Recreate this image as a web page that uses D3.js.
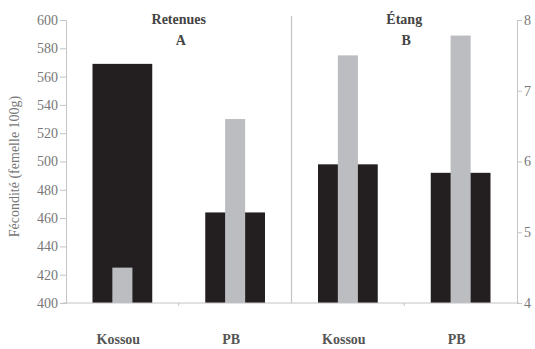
<!DOCTYPE html>
<html><head><meta charset="utf-8">
<script src="https://cdn.jsdelivr.net/npm/d3@7"></script>
<style>body{margin:0;background:#fff;} svg{display:block;}</style>
</head><body>
<svg id="c" width="535" height="349"></svg>
<script>
const categories = ["Kossou", "PB", "Kossou", "PB"];
const panels = ["Retenues", "Étang"];
const panelLetters = ["A", "B"];
const fecondite = [569, 464, 498, 492];      // left axis, black bars
const secondValues = [4.5, 6.6, 7.5, 7.78];  // right axis, grey bars
const leftTicks = [400, 420, 440, 460, 480, 500, 520, 540, 560, 580, 600];
const rightTicks = [4, 5, 6, 7, 8];

(function () {
const svg = d3.select("#c");
const mLeft = 66, mRight = 517, mTop = 20, mBottom = 303;
const font = "'Liberation Serif', 'Times New Roman', serif";

const x = d3.scaleBand().domain(d3.range(categories.length)).range([mLeft, mRight]).padding(0);
const yL = d3.scaleLinear().domain([400, 600]).range([mBottom, mTop]);
const yR = d3.scaleLinear().domain([4, 8]).range([mBottom, mTop]);
const axisCol = "#c4c4c4";

// black bars
const bw = x.bandwidth() * 0.53;
svg.selectAll("rect.b").data(fecondite).enter().append("rect").attr("class", "b")
  .attr("x", (d, i) => x(i) + x.bandwidth() / 2 - bw / 2)
  .attr("width", bw)
  .attr("y", d => yL(d))
  .attr("height", d => mBottom - yL(d))
  .attr("fill", "#231f20");
// grey bars
const gw = x.bandwidth() * 0.178;
svg.selectAll("rect.g").data(secondValues).enter().append("rect").attr("class", "g")
  .attr("x", (d, i) => x(i) + x.bandwidth() / 2 - gw / 2)
  .attr("width", gw)
  .attr("y", d => yR(d))
  .attr("height", d => mBottom - yR(d))
  .attr("fill", "#bcbdc0");

// left axis
const gL = svg.append("g").attr("transform", `translate(${mLeft},0)`)
  .call(d3.axisLeft(yL).tickValues(leftTicks).tickFormat(d3.format("d")).tickSize(6).tickPadding(2));
// right axis
const gR = svg.append("g").attr("transform", `translate(${mRight},0)`)
  .call(d3.axisRight(yR).tickValues(rightTicks).tickFormat(d3.format("d")).tickSize(5).tickPadding(2));
// bottom axis
const gB = svg.append("g").attr("transform", `translate(0,${mBottom})`)
  .call(d3.axisBottom(x).tickValues([]).tickSizeOuter(0));
[gL, gR, gB].forEach(g => {
  g.selectAll("path,line").attr("stroke", axisCol);
  g.selectAll("text").attr("font-family", font).attr("font-size", 14).attr("fill", "#777");
});
gB.select(".domain").attr("d", `M${mLeft - 3},0H${mRight + 2}`);
// small separator ticks between categories
[1, 3].forEach(i => {
  svg.append("line").attr("x1", x(i)).attr("x2", x(i))
    .attr("y1", mBottom).attr("y2", mBottom + 3).attr("stroke", axisCol);
});
// panel divider
svg.append("line").attr("x1", x(2)).attr("x2", x(2))
  .attr("y1", 16).attr("y2", mBottom).attr("stroke", axisCol).attr("stroke-width", 1.2);

// category labels
svg.selectAll("text.cat").data(categories).enter().append("text").attr("class", "cat")
  .attr("x", (d, i) => x(i) + x.bandwidth() / 2 - 4)
  .attr("y", 344)
  .attr("text-anchor", "middle")
  .attr("font-family", font).attr("font-size", 14).attr("font-weight", "bold")
  .attr("fill", "#555")
  .text(d => d);

// panel titles
panels.forEach((p, k) => {
  const cx = x(2 * k + 1);
  svg.append("text").attr("x", cx).attr("y", 24).attr("text-anchor", "middle")
    .attr("font-family", font).attr("font-size", 14).attr("font-weight", "bold")
    .attr("fill", "#444").text(p);
  svg.append("text").attr("x", cx + 2).attr("y", 45).attr("text-anchor", "middle")
    .attr("font-family", font).attr("font-size", 14).attr("font-weight", "bold")
    .attr("fill", "#444").text(panelLetters[k]);
});

// y axis title
svg.append("text")
  .attr("transform", `translate(19,${(mTop + mBottom) / 2 + 5}) rotate(-90)`)
  .attr("text-anchor", "middle")
  .attr("font-family", font).attr("font-size", 14)
  .attr("fill", "#777")
  .text("Fécondité (femelle 100g)");
})();
</script>
</body></html>
